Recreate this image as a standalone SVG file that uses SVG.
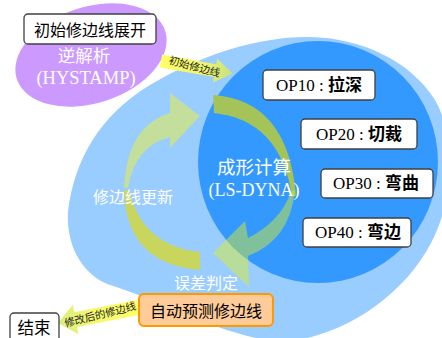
<svg xmlns="http://www.w3.org/2000/svg" width="442" height="338" viewBox="0 0 442 338">
<defs>
<linearGradient id="gTop" x1="0" y1="0" x2="1" y2="0">
<stop offset="0" stop-color="#FFFF66"/>
<stop offset="0.6" stop-color="#EEF56E"/>
<stop offset="1" stop-color="#C4DF80"/>
</linearGradient>
<linearGradient id="gBot" x1="0" y1="0" x2="1" y2="0">
<stop offset="0" stop-color="#D8EC80"/>
<stop offset="0.4" stop-color="#F2F76C"/>
<stop offset="1" stop-color="#FFFF66"/>
</linearGradient>
<style>
.box{fill:#fff;stroke:#404040;stroke-width:1.3}
.cjk{font-family:"Noto Sans CJK SC","Noto Sans",sans-serif}
.ser{font-family:"Liberation Serif",serif}
.w{fill:#fff}
.k{fill:#000}
.lbl{font-family:"Noto Sans CJK SC",sans-serif;font-size:10.5px;fill:#222}
.op{font-size:17px}
.opc{font-family:"Noto Sans CJK SC",sans-serif;font-weight:700}
</style>
</defs>
<rect width="442" height="338" fill="#fff"/>
<g id="region-outer">
<path d="M68,212 C74,160 100,115 150,85 C200,55 260,36 310,37 C360,38 410,60 435,100 C455,135 455,190 435,235 C410,290 350,335 285,342 C230,340 160,300 110,285 C82,275 66,245 68,212 Z" fill="#99CCFF"/>
</g>
<g id="region-inner">
<ellipse cx="318" cy="162" rx="120" ry="121" fill="#3399FF"/>
</g>
<g id="node-reverse">
<ellipse cx="91" cy="55" rx="78" ry="48" transform="rotate(-18 91 55)" fill="#CC99FF"/>
<text class="cjk w" x="84" y="62" font-size="17.5" text-anchor="middle">逆解析</text>
<text class="ser w" x="86" y="84" font-size="18.5" text-anchor="middle">(HYSTAMP)</text>
</g>
<g id="connectors">
<path d="M124,188 Q127,126 170,113 L170,93 L200,116 L170,148 L170,137 Q135,146 128,188 Z" fill="#C4DF9B"/>
<path d="M124,190 Q126,264 200,270 L200,252 Q142,246 129,190 Z" fill="#C9D65D"/>
<path d="M213,95 Q288,100 296,196 L292,196 Q280,120 214,113 Z" fill="#A4C45A"/>
<path d="M295,190 Q290,240 248,256 L249,287 L213,253 L245,221 L248,238 Q280,222 291,192 Z" fill="#DEF020" fill-opacity="0.45"/>
<g transform="translate(161,61) rotate(10)">
<path d="M0,-6.5 L55,-6.5 L55,-12 L73,0 L55,12 L55,6.5 L0,6.5 Z" fill="url(#gTop)"/>
<text class="lbl" x="34" y="3.5" text-anchor="middle" transform="rotate(5 34 0)">初始修边线</text>
</g>
<g transform="translate(58,323) rotate(-11)">
<path d="M0,0 L18,-15 L18,-7.5 L82,-7.5 L82,7.5 L18,7.5 L18,15 Z" fill="url(#gBot)"/>
<text class="lbl" x="43" y="3.5" text-anchor="middle" transform="rotate(-3 43 0)">修改后的修边线</text>
</g>
</g>
<g id="node-start">
<rect class="box" x="24" y="14" width="132" height="30" rx="4"/>
<text class="cjk k" x="90" y="36" font-size="16" text-anchor="middle">初始修边线展开</text>
</g>
<g id="node-calc">
<text class="cjk w" x="254" y="174" font-size="18.5" text-anchor="middle">成形计算</text>
<text class="ser w" x="254" y="196" font-size="18" text-anchor="middle">(LS-DYNA)</text>
</g>
<g id="node-update">
<text class="cjk w" x="133" y="203" font-size="16" text-anchor="middle">修边线更新</text>
</g>
<g id="node-judge">
<text class="cjk w" x="206" y="289" font-size="16" text-anchor="middle">误差判定</text>
</g>
<g id="node-op10">
<rect class="box" x="263" y="70" width="112" height="30" rx="4"/>
<text class="op k" x="276" y="91"><tspan class="ser">OP10 : </tspan><tspan class="opc">拉深</tspan></text>
</g>
<g id="node-op20">
<rect class="box" x="301" y="119" width="116" height="30" rx="4"/>
<text class="op k" x="316" y="140"><tspan class="ser">OP20 : </tspan><tspan class="opc">切裁</tspan></text>
</g>
<g id="node-op30">
<rect class="box" x="321" y="169" width="112" height="29" rx="4"/>
<text class="op k" x="333" y="189"><tspan class="ser">OP30 : </tspan><tspan class="opc">弯曲</tspan></text>
</g>
<g id="node-op40">
<rect class="box" x="303" y="218" width="108" height="29" rx="4"/>
<text class="op k" x="315" y="238"><tspan class="ser">OP40 : </tspan><tspan class="opc">弯边</tspan></text>
</g>
<g id="node-predict">
<rect x="139" y="294" width="134" height="32" rx="5" fill="#FFCC99" stroke="#FF9900" stroke-width="2"/>
<text class="cjk k" x="206" y="317" font-size="16" text-anchor="middle">自动预测修边线</text>
</g>
<g id="node-end">
<rect class="box" x="10" y="313" width="49" height="34" rx="4"/>
<text class="cjk k" x="34" y="334" font-size="16.5" text-anchor="middle">结束</text>
</g>
</svg>
